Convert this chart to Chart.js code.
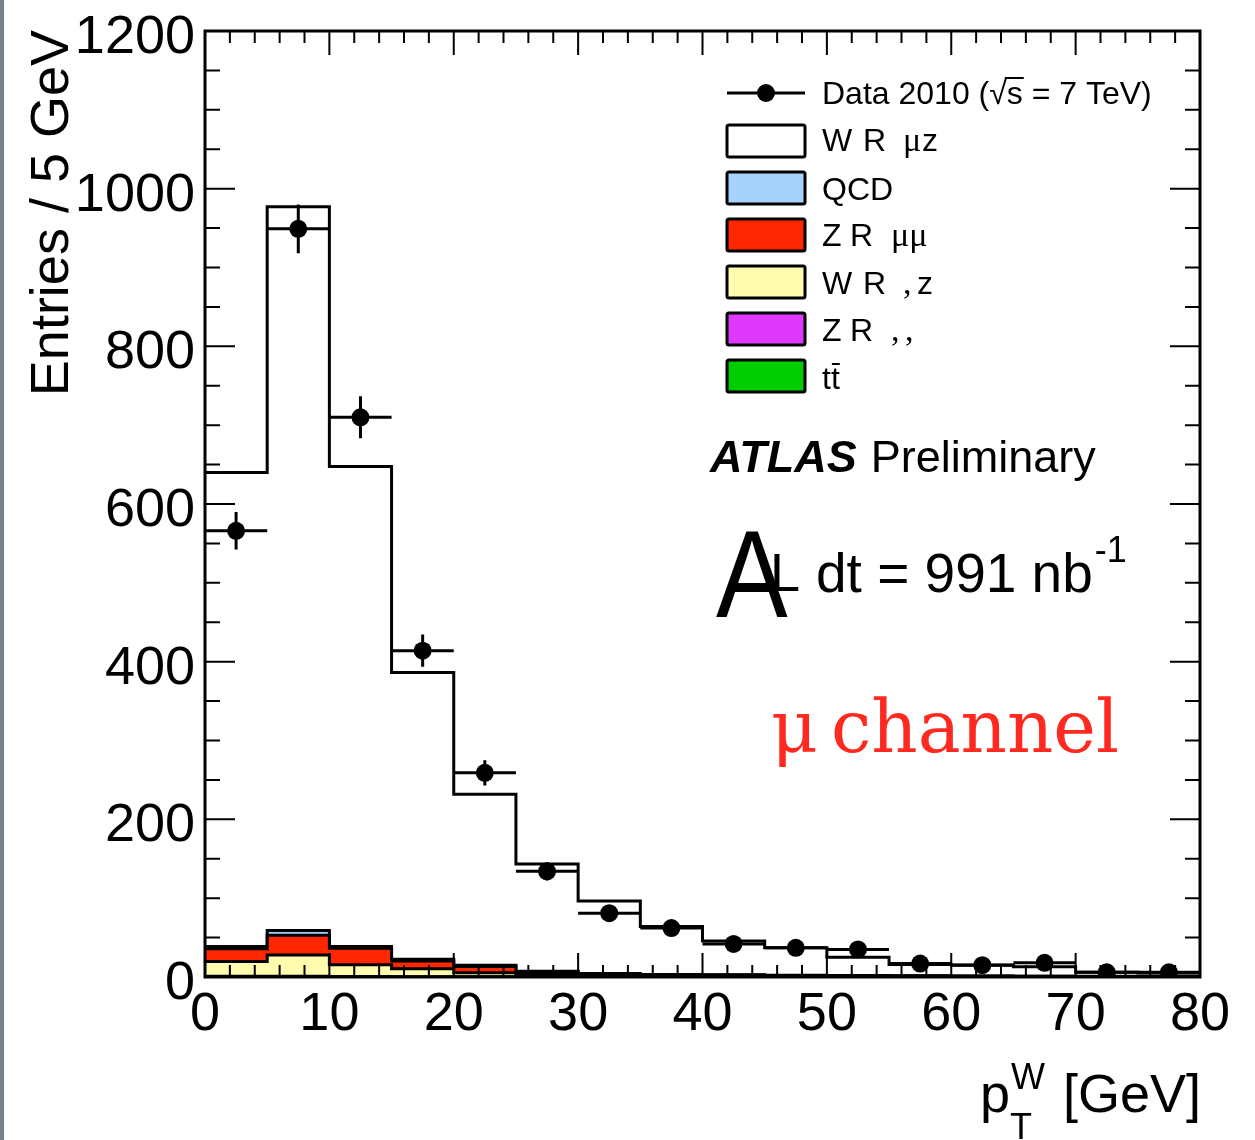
<!DOCTYPE html>
<html>
<head>
<meta charset="utf-8">
<title>W pT - muon channel</title>
<script src="https://cdn.jsdelivr.net/npm/chart.js@4.4.1/dist/chart.umd.min.js"></script>
<style>
  html, body { margin: 0; padding: 0; background: #fff; }
  #wrap { position: relative; width: 1255px; height: 1140px; }
</style>
</head>
<body>
<div id="wrap"><canvas id="ptChart"></canvas></div>
<script>
// 5 GeV bins of W transverse momentum
const binEdges = [0, 5, 10, 15, 20, 25, 30, 35, 40, 45, 50, 55, 60, 65, 70, 75, 80];

// events per bin
const dataCounts = [566, 949, 710, 414, 259, 134, 81, 62, 42, 37, 35, 17, 15, 18, 6, 6];

// MC expectation, one array per process
const wMuNu   = [601, 918, 609, 364, 217, 136, 92, 61, 43, 35, 23, 14.5, 14, 12, 5.2, 4.2];
const qcd     = [3, 6, 2, 2, 1.5, 1, 0.6, 0.4, 0.3, 0.2, 0.2, 0.1, 0.1, 0.1, 0.1, 0.1];
const zMuMu   = [16, 25, 21, 10, 8, 3, 1.5, 1, 0.8, 0.6, 0.5, 0.4, 0.3, 0.3, 0.2, 0.2];
const wTauNu  = [19, 27, 15, 10, 5, 3, 2, 1.5, 1.2, 1, 0.8, 0.6, 0.5, 0.4, 0.3, 0.3];
const zTauTau = [0.8, 1, 0.6, 0.4, 0.3, 0.2, 0.2, 0.1, 0.1, 0.1, 0.1, 0.1, 0, 0, 0, 0];
const ttbar   = [0, 0, 0, 0, 0.1, 0.1, 0.2, 0.2, 0.3, 0.3, 0.3, 0.3, 0.3, 0.3, 0.2, 0.2];

const xTicks = [0, 10, 20, 30, 40, 50, 60, 70, 80];
const yTicks = [0, 200, 400, 600, 800, 1000, 1200];

const SANS = "'Liberation Sans', Arial, Helvetica, sans-serif";
const SERIF = "'Liberation Serif', 'Times New Roman', serif";
const SLAB = "'DejaVu Serif', serif";

// stack from the bottom up, keeping the running sum for each layer
const stackOrder = [ttbar, zTauTau, wTauNu, zMuMu, qcd, wMuNu];
const cumulative = [];
let running = dataCounts.map(() => 0);
stackOrder.forEach(proc => {
    running = running.map((r, i) => r + proc[i]);
    cumulative.push(running);
});

const stepPoints = vals => {
    const pts = [];
    vals.forEach((v, i) => {
        pts.push({ x: binEdges[i], y: v }, { x: binEdges[i + 1], y: v });
    });
    return pts;
};

const histSet = (label, vals, fillColor) => ({
    label: label,
    data: stepPoints(vals),
    borderColor: '#000',
    borderWidth: 3,
    borderJoinStyle: 'miter',
    backgroundColor: fillColor,
    fill: 'origin',
    pointRadius: 0,
    tension: 0
});

const dataPoints = dataCounts.map((v, i) => ({
    x: (binEdges[i] + binEdges[i + 1]) / 2,
    y: v
}));

// error bars: full bin width in x, Poisson error in y
const errorBars = {
    id: 'errorBars',
    afterDatasetsDraw(chart) {
        const { ctx, scales: { x, y } } = chart;
        ctx.save();
        ctx.strokeStyle = '#000';
        ctx.lineWidth = 3;
        ctx.beginPath();
        dataCounts.forEach((v, i) => {
            const err = Math.sqrt(v);
            const cy = y.getPixelForValue(v);
            ctx.moveTo(x.getPixelForValue(binEdges[i]), cy);
            ctx.lineTo(x.getPixelForValue(binEdges[i + 1]), cy);
            const cx = x.getPixelForValue((binEdges[i] + binEdges[i + 1]) / 2);
            ctx.moveTo(cx, y.getPixelForValue(v - err));
            ctx.lineTo(cx, y.getPixelForValue(v + err));
        });
        ctx.stroke();
        ctx.restore();
    }
};

// frame with inward ticks on all four sides
const frameTicks = {
    id: 'frameTicks',
    afterDatasetsDraw(chart) {
        const { ctx, chartArea: a, scales: { x, y } } = chart;
        ctx.save();
        ctx.strokeStyle = '#000';
        ctx.lineWidth = 2;
        ctx.beginPath();
        for (let v = 0; v <= 80; v += 2) {
            const px = x.getPixelForValue(v);
            const len = v % 10 === 0 ? 24 : 12;
            ctx.moveTo(px, a.bottom); ctx.lineTo(px, a.bottom - len);
            ctx.moveTo(px, a.top); ctx.lineTo(px, a.top + len);
        }
        for (let v = 0; v <= 1200; v += 50) {
            const py = y.getPixelForValue(v);
            const len = v % 200 === 0 ? 30 : 15;
            ctx.moveTo(a.left, py); ctx.lineTo(a.left + len, py);
            ctx.moveTo(a.right, py); ctx.lineTo(a.right - len, py);
        }
        ctx.stroke();
        ctx.lineWidth = 3;
        ctx.strokeRect(a.left, a.top, a.width, a.height);
        ctx.restore();
    }
};

const text = (ctx, str, x, y, font, color) => {
    ctx.font = font;
    ctx.fillStyle = color || '#000';
    ctx.fillText(str, x, y);
    return ctx.measureText(str).width;
};

// legend, labels and axis titles
const annotations = {
    id: 'annotations',
    afterDraw(chart) {
        const ctx = chart.ctx;
        ctx.save();
        ctx.textBaseline = 'alphabetic';
        ctx.textAlign = 'left';

        // edge of the window
        ctx.fillStyle = '#7a8288';
        ctx.fillRect(0, 0, 4, 1140);

        // data entry
        ctx.strokeStyle = '#000';
        ctx.lineWidth = 3;
        ctx.beginPath();
        ctx.moveTo(727, 93); ctx.lineTo(805, 93);
        ctx.stroke();
        ctx.beginPath();
        ctx.arc(766, 93, 9, 0, Math.PI * 2);
        ctx.fillStyle = '#000';
        ctx.fill();

        const lf = '32px ' + SANS;
        const pre = 'Data 2010 (';
        ctx.font = lf;
        const wPre = ctx.measureText(pre).width;
        const wRoot = ctx.measureText('√').width;
        const wS = ctx.measureText('s').width;
        text(ctx, 'Data 2010 (√s = 7 TeV)', 822, 104, lf);
        ctx.lineWidth = 2;
        ctx.beginPath();
        ctx.moveTo(822 + wPre + wRoot - 2, 78);
        ctx.lineTo(822 + wPre + wRoot + wS + 1, 78);
        ctx.stroke();

        // process boxes
        const boxes = [
            ['#ffffff', 141], ['#a6d2fc', 188], ['#ff2600', 235],
            ['#fffcad', 282], ['#dd38fb', 329], ['#00cc00', 376]
        ];
        ctx.lineWidth = 3;
        boxes.forEach(([c, cy]) => {
            ctx.fillStyle = c;
            ctx.beginPath();
            ctx.roundRect(727, cy - 16, 78, 32, 2);
            ctx.fill();
            ctx.stroke();
        });

        const sf = '34px ' + SERIF;
        text(ctx, 'W', 822, 151, lf); text(ctx, 'R', 863, 151, lf);
        text(ctx, 'μ', 903, 151, sf); text(ctx, 'z', 922, 151, lf);
        text(ctx, 'QCD', 822, 200, lf);
        text(ctx, 'Z', 822, 246, lf); text(ctx, 'R', 850, 246, lf);
        text(ctx, 'μμ', 891, 246, sf);
        text(ctx, 'W', 822, 294, lf); text(ctx, 'R', 863, 294, lf);
        text(ctx, ',', 903, 294, sf); text(ctx, 'z', 917, 294, lf);
        text(ctx, 'Z', 822, 341, lf); text(ctx, 'R', 850, 341, lf);
        text(ctx, ',', 891, 341, sf); text(ctx, ',', 905, 341, sf);
        const wt = text(ctx, 'tt', 822, 389, lf);
        ctx.lineWidth = 2;
        ctx.beginPath();
        ctx.moveTo(822 + wt / 2 + 1, 364); ctx.lineTo(822 + wt, 364);
        ctx.stroke();

        // experiment label
        const wAtlas = text(ctx, 'ATLAS', 710, 472, 'italic bold 45px ' + SANS);
        text(ctx, 'Preliminary', 710 + wAtlas + 14, 472, '45px ' + SANS);

        // integrated luminosity
        ctx.save();
        ctx.translate(716, 617);
        ctx.scale(0.86, 1);
        text(ctx, 'A', 0, 0, '125px ' + SANS);
        ctx.restore();
        text(ctx, 'L', 770, 591, '54px ' + SANS);
        const wLumi = text(ctx, 'dt = 991 nb', 816, 592, '55px ' + SANS);
        text(ctx, '-1', 816 + wLumi + 2, 562, '36px ' + SANS);

        // channel
        text(ctx, 'μ', 771, 752, '72px ' + SLAB, '#ff2a1f');
        text(ctx, 'channel', 831, 752, '72px ' + SLAB, '#ff2a1f');

        // x title
        text(ctx, 'p', 980, 1112, '54px ' + SANS);
        text(ctx, 'W', 1011, 1089, '36px ' + SANS);
        text(ctx, 'T', 1010, 1139, '36px ' + SANS);
        text(ctx, '[GeV]', 1063, 1112, '54px ' + SANS);

        // y title
        ctx.save();
        ctx.translate(68, 30);
        ctx.rotate(-Math.PI / 2);
        ctx.textAlign = 'right';
        text(ctx, 'Entries / 5 GeV', 0, 0, '54px ' + SANS);
        ctx.restore();

        ctx.restore();
    }
};

const ctx = document.getElementById('ptChart');

new Chart(ctx, {
    type: 'line',
    data: {
        datasets: [
            {
                type: 'scatter',
                label: 'Data 2010',
                data: dataPoints,
                showLine: false,
                pointRadius: 9,
                pointBackgroundColor: '#000',
                pointBorderWidth: 0
            },
            histSet('ttbar', cumulative[0], '#00cc00'),
            histSet('Z tautau', cumulative[1], '#dd38fb'),
            histSet('W taunu', cumulative[2], '#fffcad'),
            histSet('Z mumu', cumulative[3], '#ff2600'),
            histSet('QCD', cumulative[4], '#a6d2fc'),
            histSet('W munu', cumulative[5], '#ffffff')
        ]
    },
    options: {
        responsive: true,
        maintainAspectRatio: false,
        animation: false,
        devicePixelRatio: 1,
        layout: { padding: { top: 31, right: 55, left: 0, bottom: 0 } },
        scales: {
            x: {
                type: 'linear',
                min: 0,
                max: 80,
                afterBuildTicks: s => { s.ticks = xTicks.map(v => ({ value: v })); },
                afterFit: s => {
                    s.height = 163;
                    s.paddingLeft = 0;
                    s.paddingRight = 0;
                },
                grid: { display: false, drawTicks: false },
                border: { display: false },
                ticks: {
                    autoSkip: false,
                    maxRotation: 0,
                    padding: 6,
                    color: '#000',
                    font: { size: 54, family: SANS },
                    callback: v => String(v)
                }
            },
            y: {
                min: 0,
                max: 1200,
                afterBuildTicks: s => { s.ticks = yTicks.map(v => ({ value: v })); },
                afterFit: s => {
                    s.width = 205;
                    s.paddingTop = 0;
                    s.paddingBottom = 0;
                },
                grid: { display: false, drawTicks: false },
                border: { display: false },
                ticks: {
                    autoSkip: false,
                    padding: 10,
                    labelOffset: 7,
                    color: '#000',
                    font: { size: 54, family: SANS },
                    callback: v => String(v)
                }
            }
        },
        plugins: {
            legend: { display: false },
            tooltip: { enabled: false }
        }
    },
    plugins: [errorBars, frameTicks, annotations]
});
</script>
</body>
</html>
